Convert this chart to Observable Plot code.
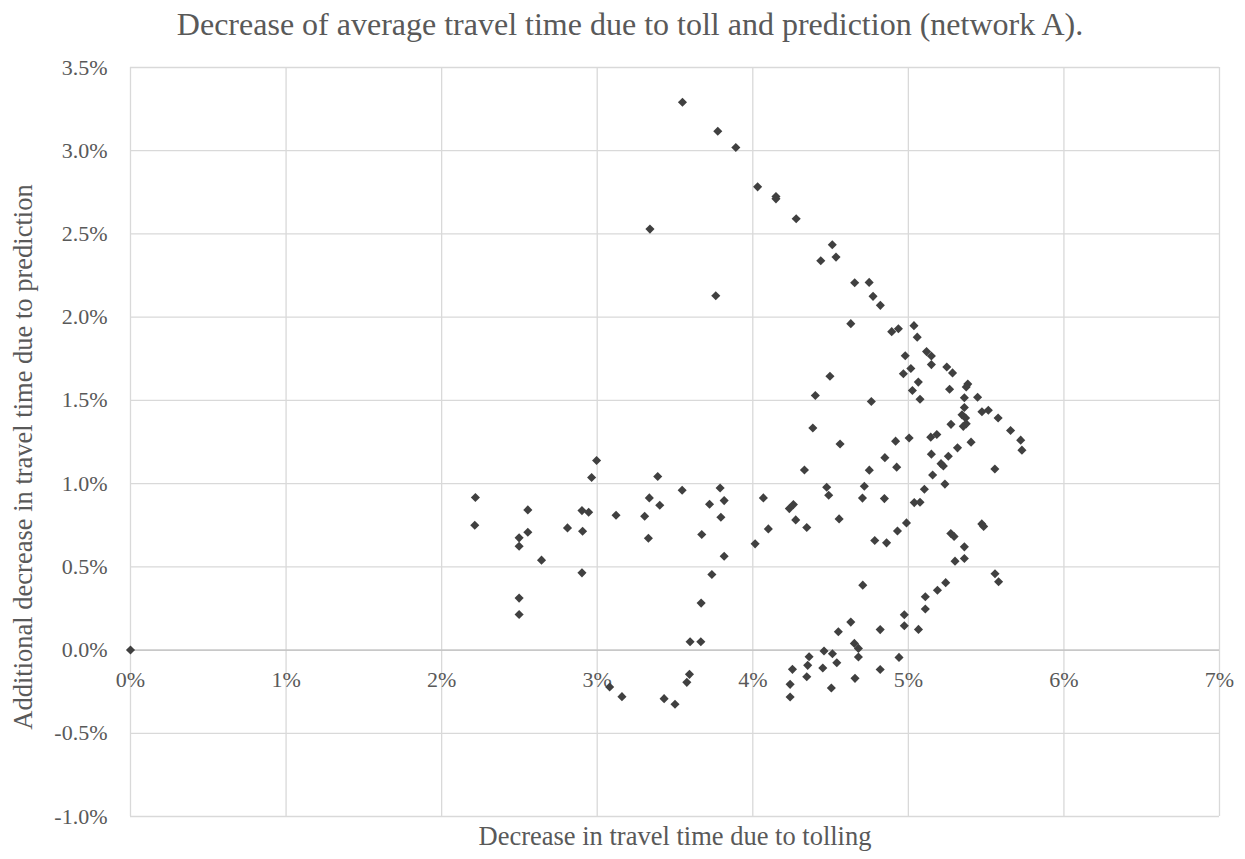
<!DOCTYPE html>
<html>
<head>
<meta charset="utf-8">
<script src="https://cdn.jsdelivr.net/npm/d3@7"></script>
<script src="https://cdn.jsdelivr.net/npm/@observablehq/plot@0.6"></script>
<style>
  html, body { margin: 0; padding: 0; background: #fff; overflow: hidden; }
  #title {
    width: 1245px; height: 48px; line-height: 48px;
    padding-left: 15px; box-sizing: border-box; text-align: center;
    font-family: "Liberation Serif", "Times New Roman", serif;
    font-size: 32px; color: #595959; white-space: nowrap;
  }
  #chart svg { display: block; }
</style>
</head>
<body>
<div id="title">Decrease of average travel time due to toll and prediction (network A).</div>
<div id="chart"></div>
<script>
// Decrease in travel time due to tolling (%)
const tollDecrease = [
  0,
  2.217, 2.213, 2.498, 2.498, 2.554, 2.554, 2.642, 2.498, 2.498, 2.809,
  2.902, 2.945, 2.906, 2.902, 2.964, 2.996, 3.121, 3.305, 3.329, 3.335,
  3.389, 3.402, 3.546, 3.672, 3.722, 3.737, 3.668, 3.597, 3.666, 3.790,
  3.795, 3.816, 3.816, 3.080, 3.159, 3.430, 3.500, 3.593, 3.576,
  3.548, 3.775, 3.891, 4.031, 4.149, 4.149, 4.279, 3.339, 4.511, 4.437,
  4.535, 4.655, 4.748, 4.773, 4.820, 3.762, 4.630, 4.496, 4.402, 4.762,
  4.893, 4.936, 5.036, 5.057, 4.980, 5.117, 5.148, 5.148, 4.968, 5.016,
  5.064, 5.026, 5.075, 5.247, 5.284, 5.265, 5.382, 5.372, 5.360, 5.445,
  5.360, 5.345, 5.368, 5.353, 5.372, 5.473, 5.514, 5.577, 5.657, 5.722,
  5.730, 5.274, 5.144, 5.183, 5.005, 4.918, 5.403, 5.316, 5.257, 5.148,
  5.210, 5.225, 4.849, 4.925, 5.556, 4.749, 5.156, 5.235, 5.103, 5.038,
  5.075, 4.717, 4.705, 4.846, 4.988, 4.930, 5.472, 5.484, 5.273, 5.294,
  4.784, 4.860, 5.360, 5.300, 5.360, 5.557, 5.580, 5.240, 5.187, 5.109,
  5.109, 4.974, 4.974, 5.065, 4.819, 4.940, 4.819, 4.707, 4.630, 4.550,
  4.653, 4.679, 4.679, 4.458, 4.512, 4.540, 4.450, 4.362, 4.353, 4.347,
  4.255, 4.240, 4.240, 4.505, 4.657, 4.386, 4.561, 4.332, 4.068, 4.015,
  4.100, 4.235, 4.261, 4.276, 4.347, 4.475, 4.488, 4.555
];

// Additional decrease in travel time due to prediction (%)
const predictionDecrease = [
  0,
  0.917, 0.750, 0.674, 0.624, 0.842, 0.708, 0.540, 0.312, 0.214, 0.734,
  0.838, 0.828, 0.714, 0.464, 1.037, 1.139, 0.810, 0.804, 0.672, 0.914,
  1.043, 0.870, 0.960, 0.694, 0.876, 0.454, 0.282, 0.050, 0.050, 0.974,
  0.798, 0.898, 0.564, -0.222, -0.280, -0.292, -0.326, -0.146, -0.194,
  3.291, 3.117, 3.019, 2.783, 2.725, 2.711, 2.591, 2.529, 2.435, 2.339,
  2.361, 2.207, 2.209, 2.125, 2.071, 2.129, 1.961, 1.645, 1.529, 1.493,
  1.913, 1.930, 1.949, 1.880, 1.768, 1.793, 1.767, 1.715, 1.660, 1.692,
  1.610, 1.559, 1.507, 1.701, 1.665, 1.567, 1.598, 1.580, 1.516, 1.519,
  1.457, 1.413, 1.394, 1.344, 1.359, 1.432, 1.441, 1.394, 1.319, 1.261,
  1.201, 1.356, 1.279, 1.295, 1.274, 1.255, 1.249, 1.215, 1.164, 1.177,
  1.120, 1.106, 1.156, 1.099, 1.088, 1.081, 1.052, 0.997, 0.966, 0.886,
  0.888, 0.984, 0.913, 0.910, 0.764, 0.715, 0.758, 0.743, 0.700, 0.682,
  0.658, 0.644, 0.620, 0.534, 0.550, 0.458, 0.410, 0.405, 0.359, 0.320,
  0.247, 0.212, 0.146, 0.124, 0.123, -0.044, -0.117, 0.390, 0.168, 0.110,
  0.040, 0.010, -0.042, -0.006, -0.022, -0.076, -0.108, -0.040, -0.092, -0.160,
  -0.116, -0.206, -0.282, -0.228, -0.170, 1.334, 1.238, 1.082, 0.914, 0.638,
  0.728, 0.850, 0.874, 0.782, 0.736, 0.978, 0.930, 0.788
];

const xTicks = [0, 1, 2, 3, 4, 5, 6, 7];
const yTicks = [-1.0, -0.5, 0.0, 0.5, 1.0, 1.5, 2.0, 2.5, 3.0, 3.5];
const xTitle = "Decrease in travel time due to tolling";
const yTitle = "Additional decrease in travel time due to prediction";

const points = tollDecrease.map((x, i) => ({x, y: predictionDecrease[i]}));

const font = "'Liberation Serif', 'Times New Roman', serif";
const textColor = "#595959";

const chart = Plot.plot({
  width: 1245,
  height: 811,
  marginTop: 19,
  marginBottom: 43,
  marginLeft: 130,
  marginRight: 26,
  style: {fontFamily: font, color: textColor, background: "white"},
  x: {domain: [0, 7], axis: null},
  y: {domain: [-1, 3.5]},
  marks: [
    Plot.gridX(xTicks, {stroke: "#d9d9d9", strokeOpacity: 1, strokeWidth: 1.3}),
    Plot.gridY(yTicks, {stroke: "#d9d9d9", strokeOpacity: 1, strokeWidth: 1.3}),
    Plot.ruleY([0], {stroke: "#bfbfbf", strokeWidth: 1.3}),
    Plot.axisY(yTicks, {
      tickSize: 0, tickPadding: 23, fontSize: 22, fill: textColor,
      tickFormat: d => d.toFixed(1) + "%", label: null
    }),
    Plot.text(xTicks, {
      x: d => d, y: 0, dy: 30, text: d => d + "%",
      fontSize: 22, fill: textColor, textAnchor: "middle"
    }),
    Plot.text([xTitle], {
      frameAnchor: "bottom", dy: 28, text: d => d,
      fontSize: 26.5, fill: textColor, textAnchor: "middle"
    }),
    Plot.text([yTitle], {
      frameAnchor: "left", dx: -107, dy: 15, rotate: -90, text: d => d,
      fontSize: 26.5, fill: textColor, textAnchor: "middle", lineAnchor: "middle"
    }),
    Plot.dot(points, {
      x: "x", y: "y", symbol: "diamond2", r: 4.1,
      fill: "#404040", stroke: "none"
    })
  ]
});

document.getElementById("chart").appendChild(chart);
</script>
</body>
</html>
